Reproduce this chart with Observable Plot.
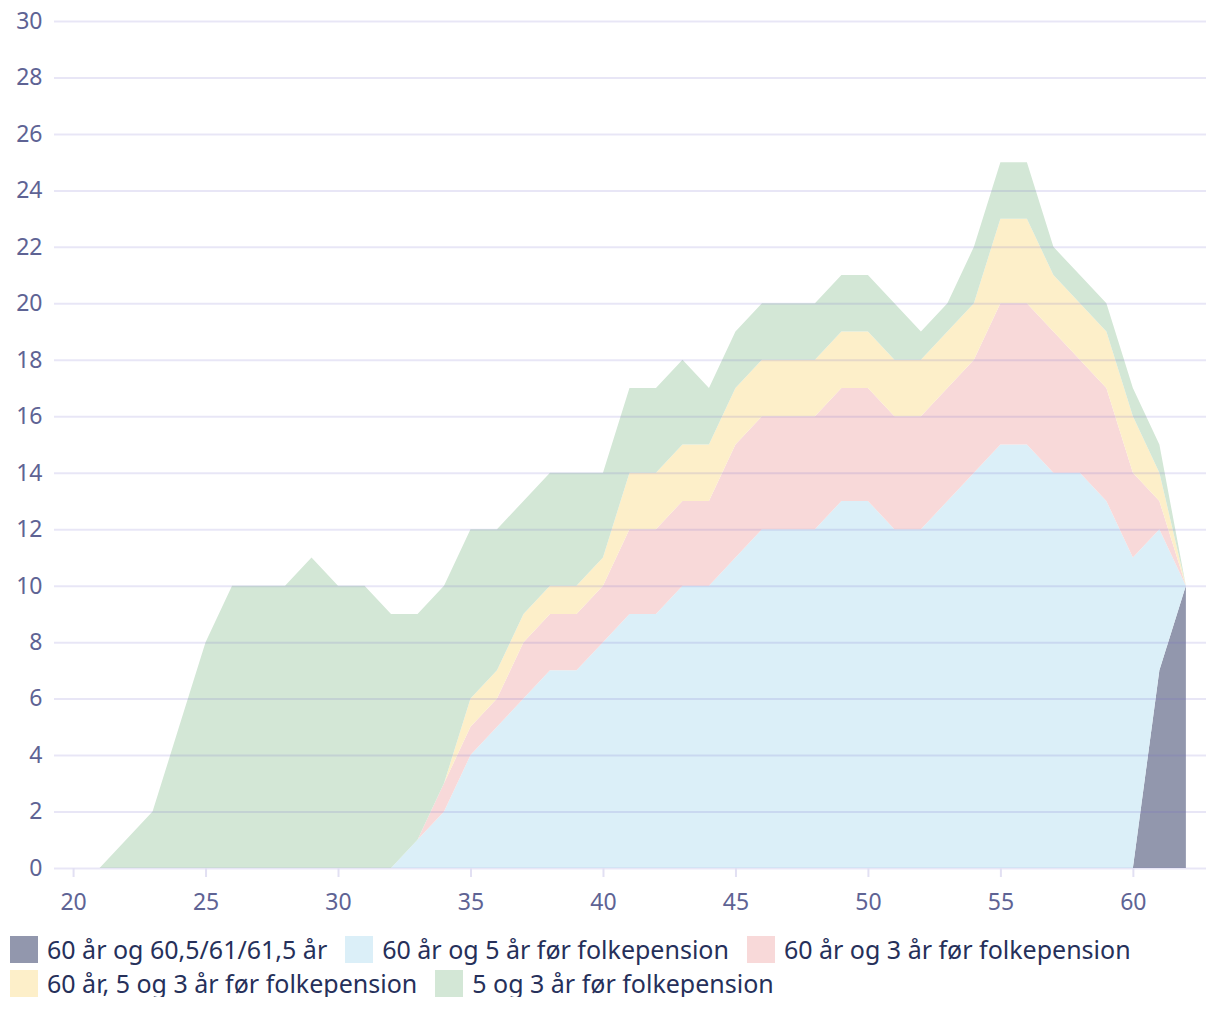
<!DOCTYPE html>
<html>
<head>
<meta charset="utf-8">
<script src="https://cdn.jsdelivr.net/npm/d3@7"></script>
<script src="https://cdn.jsdelivr.net/npm/@observablehq/plot@0.6"></script>
<style>
  html, body { margin: 0; padding: 0; background: #fff; }
  body { width: 1220px; font-family: "Noto Sans", sans-serif; }
  #chart svg { display: block; }
  #legend { display: flex; flex-wrap: wrap; padding-left: 10px; margin-top: 11px; row-gap: 7px; column-gap: 18px; width: 1200px; }
  .item { display: flex; align-items: center; font-size: 25px; color: #26305a; height: 27px; white-space: nowrap; overflow: visible; }
  .item span.t { display: inline-block; line-height: 1.3; }
  .sw { width: 28px; height: 27px; margin-right: 9px; flex: none; }
</style>
</head>
<body>
<div id="chart"></div>
<div id="legend"></div>
<script>
// Series names (bottom to top of the stack)
const seriesNames = [
  "60 år og 60,5/61/61,5 år",
  "60 år og 5 år før folkepension",
  "60 år og 3 år før folkepension",
  "60 år, 5 og 3 år før folkepension",
  "5 og 3 år før folkepension"
];
const seriesColors = ["#9297ad", "#dbeff8", "#f8d9d9", "#fdefc9", "#d3e7d6"];

// Ages for each series
const agesDark   = [60, 61, 62];
const agesBlue   = d3.range(32, 63);
const agesPink   = d3.range(33, 63);
const agesYellow = d3.range(33, 63);
const agesGreen  = d3.range(21, 63);

// Values (stacked components)
const valDark   = [0, 7, 10];
const valBlue   = [0, 1, 2, 4, 5, 6, 7, 7, 8, 9, 9, 10, 10, 11, 12, 12, 12, 13, 13, 12, 12, 13, 14, 15, 15, 14, 14, 13, 11, 5, 0];
const valPink   = [0, 1, 1, 1, 2, 2, 2, 2, 3, 3, 3, 3, 4, 4, 4, 4, 4, 4, 4, 4, 4, 4, 5, 5, 5, 4, 4, 3, 1, 0];
const valYellow = [0, 0, 1, 1, 1, 1, 1, 1, 2, 2, 2, 2, 2, 2, 2, 2, 2, 2, 2, 2, 2, 2, 3, 3, 2, 2, 2, 2, 1, 0];
const valGreen  = [0, 1, 2, 5, 8, 10, 10, 10, 11, 10, 10, 9, 8, 7, 6, 5, 4, 4, 4, 3, 3, 3, 3, 2, 2, 2, 2, 2, 2, 2, 2, 1, 1, 2, 2, 2, 1, 1, 1, 1, 1, 0];

const xTicks = [20, 25, 30, 35, 40, 45, 50, 55, 60];
const yTicks = d3.range(0, 31, 2);

const groups = [
  [agesDark, valDark],
  [agesBlue, valBlue],
  [agesPink, valPink],
  [agesYellow, valYellow],
  [agesGreen, valGreen]
];
const data = groups.flatMap(([ages, vals], i) =>
  ages.map((a, j) => ({age: a, value: vals[j], series: seriesNames[i]})));

const chart = Plot.plot({
  width: 1220,
  height: 925,
  marginLeft: 54,
  marginRight: 14,
  marginTop: 21,
  marginBottom: 57,
  style: {fontFamily: "'Noto Sans', sans-serif", background: "#fff"},
  x: {domain: [19.28, 62.76]},
  y: {domain: [0, 30]},
  color: {domain: seriesNames, range: seriesColors},
  marks: [
    Plot.areaY(data, Plot.stackY({
      x: "age", y: "value", z: "series", fill: "series", order: seriesNames
    })),
    Plot.gridY(yTicks, {stroke: "#6e64c8", strokeOpacity: 0.16, strokeWidth: 2}),
    Plot.axisY(yTicks, {tickSize: 0, tickPadding: 12, fontSize: 23, fill: "#5e6394", label: null}),
    Plot.axisX(xTicks, {tickSize: 9, tickPadding: 16, fontSize: 23, stroke: "#e2e0f3", strokeWidth: 2, fill: "#5e6394", label: null})
  ]
});
document.getElementById("chart").appendChild(chart);

const legend = document.getElementById("legend");
seriesNames.forEach((name, i) => {
  const item = document.createElement("div");
  item.className = "item";
  const sw = document.createElement("span");
  sw.className = "sw";
  sw.style.background = seriesColors[i];
  const t = document.createElement("span");
  t.className = "t";
  t.textContent = name;
  item.appendChild(sw);
  item.appendChild(t);
  legend.appendChild(item);
});
</script>
</body>
</html>
